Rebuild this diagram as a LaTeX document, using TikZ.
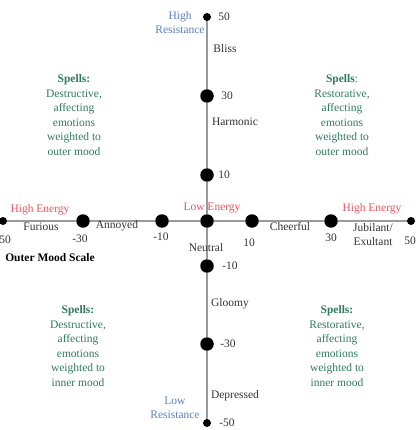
\documentclass[tikz,border=0pt]{standalone}
\usepackage{fontspec}
\setmainfont{Liberation Serif}
\definecolor{axisgray}{HTML}{9A9A9A}
\definecolor{lblred}{HTML}{E8545E}
\definecolor{lblblue}{HTML}{5A80BE}
\definecolor{spellgreen}{HTML}{2F7A5C}
\definecolor{txtgray}{HTML}{333333}
\begin{document}
\begin{tikzpicture}[x=1pt,y=-1pt,
  bigdot/.style={circle,fill=black,inner sep=0pt,minimum size=13.5pt},
  enddot/.style={circle,fill=black,inner sep=0pt,minimum size=8pt},
  axisline/.style={draw=axisgray,line width=1.6pt},
  lbl/.style={font=\fontsize{11.5}{14}\selectfont,inner sep=0pt,text=txtgray,align=center},
  energylbl/.style={lbl,text=lblred},
  reslbl/.style={lbl,text=lblblue},
  spelltxt/.style={font=\fontsize{11.5}{14.5}\selectfont,inner sep=0pt,text=spellgreen,align=center}]
\useasboundingbox (0,0) rectangle (418,430);
% dots
\node[bigdot] (c) at (207,221) {};
\node[enddot] (hl50) at (3,221) {};
\node[bigdot] (hl30) at (83,221) {};
\node[bigdot] (hl10) at (162,221) {};
\node[bigdot] (hr10) at (252,221) {};
\node[bigdot] (hr30) at (331,221) {};
\node[enddot] (hr50) at (411,221) {};
\node[enddot] (vt50) at (207,17) {};
\node[bigdot] (vt30) at (207,96) {};
\node[bigdot] (vt10) at (207,175) {};
\node[bigdot] (vb10) at (207,266) {};
\node[bigdot] (vb30) at (207,344) {};
\node[enddot] (vb50) at (207,423) {};
% axes
\draw[axisline] (hl50) -- (hl30) -- (hl10) -- (c) -- (hr10) -- (hr30) -- (hr50);
\draw[axisline] (vt50) -- (vt30) -- (vt10) -- (c) -- (vb10) -- (vb30) -- (vb50);
% vertical labels
\node[lbl] (n50t) at (224,17) {50};
\node[reslbl] (hires) at (180,22.5) {High\\Resistance};
\node[lbl] (bliss) at (225,49) {Bliss};
\node[lbl] (n30t) at (227,96) {30};
\node[lbl] (harm) at (235,122) {Harmonic};
\node[lbl] (n10t) at (224,175) {10};
\node[energylbl] (lowen) at (212,208) {Low Energy};
\node[lbl] (neutral) at (206,248) {Neutral};
\node[lbl] (n10b) at (230,266) {-10};
\node[lbl] (gloomy) at (230,304) {Gloomy};
\node[lbl] (n30b) at (228,344) {-30};
\node[lbl] (depr) at (235,396) {Depressed};
\node[reslbl] (lowres) at (175,407.5) {Low\\Resistance};
\node[lbl] (n50b) at (227,423) {-50};
% horizontal labels
\node[energylbl] (hienl) at (40,210) {High Energy};
\node[energylbl] (hienr) at (372,209) {High Energy};
\node[lbl] (furious) at (41,227) {Furious};
\node[lbl] (annoyed) at (117,226) {Annoyed};
\node[lbl] (cheerful) at (290,227) {Cheerful};
\node[lbl] (jubil) at (373,235) {Jubilant/\\Exultant};
\node[lbl] (n50l) at (5,240) {50};
\node[lbl] (n30l) at (80,239) {-30};
\node[lbl] (n10l) at (161,237) {-10};
\node[lbl] (n10r) at (249,243) {10};
\node[lbl] (n30r) at (331,238) {30};
\node[lbl] (n50r) at (410,241) {50};
\node[lbl,text=black,font=\fontsize{11.5}{14}\selectfont\bfseries] (scale) at (50,258) {Outer Mood Scale};
% quadrant texts
\node[spelltxt] (qtl) at (74,115) {\textbf{Spells:}\\Destructive,\\affecting\\emotions\\weighted to\\outer mood};
\node[spelltxt] (qtr) at (342,115) {\textbf{Spells}:\\Restorative,\\affecting\\emotions\\weighted to\\outer mood};
\node[spelltxt] (qbl) at (78,346) {\textbf{Spells:}\\Destructive,\\affecting\\emotions\\weighted to\\inner mood};
\node[spelltxt] (qbr) at (337,346) {\textbf{Spells:}\\Restorative,\\affecting\\emotions\\weighted to\\inner mood};
\end{tikzpicture}
\end{document}
